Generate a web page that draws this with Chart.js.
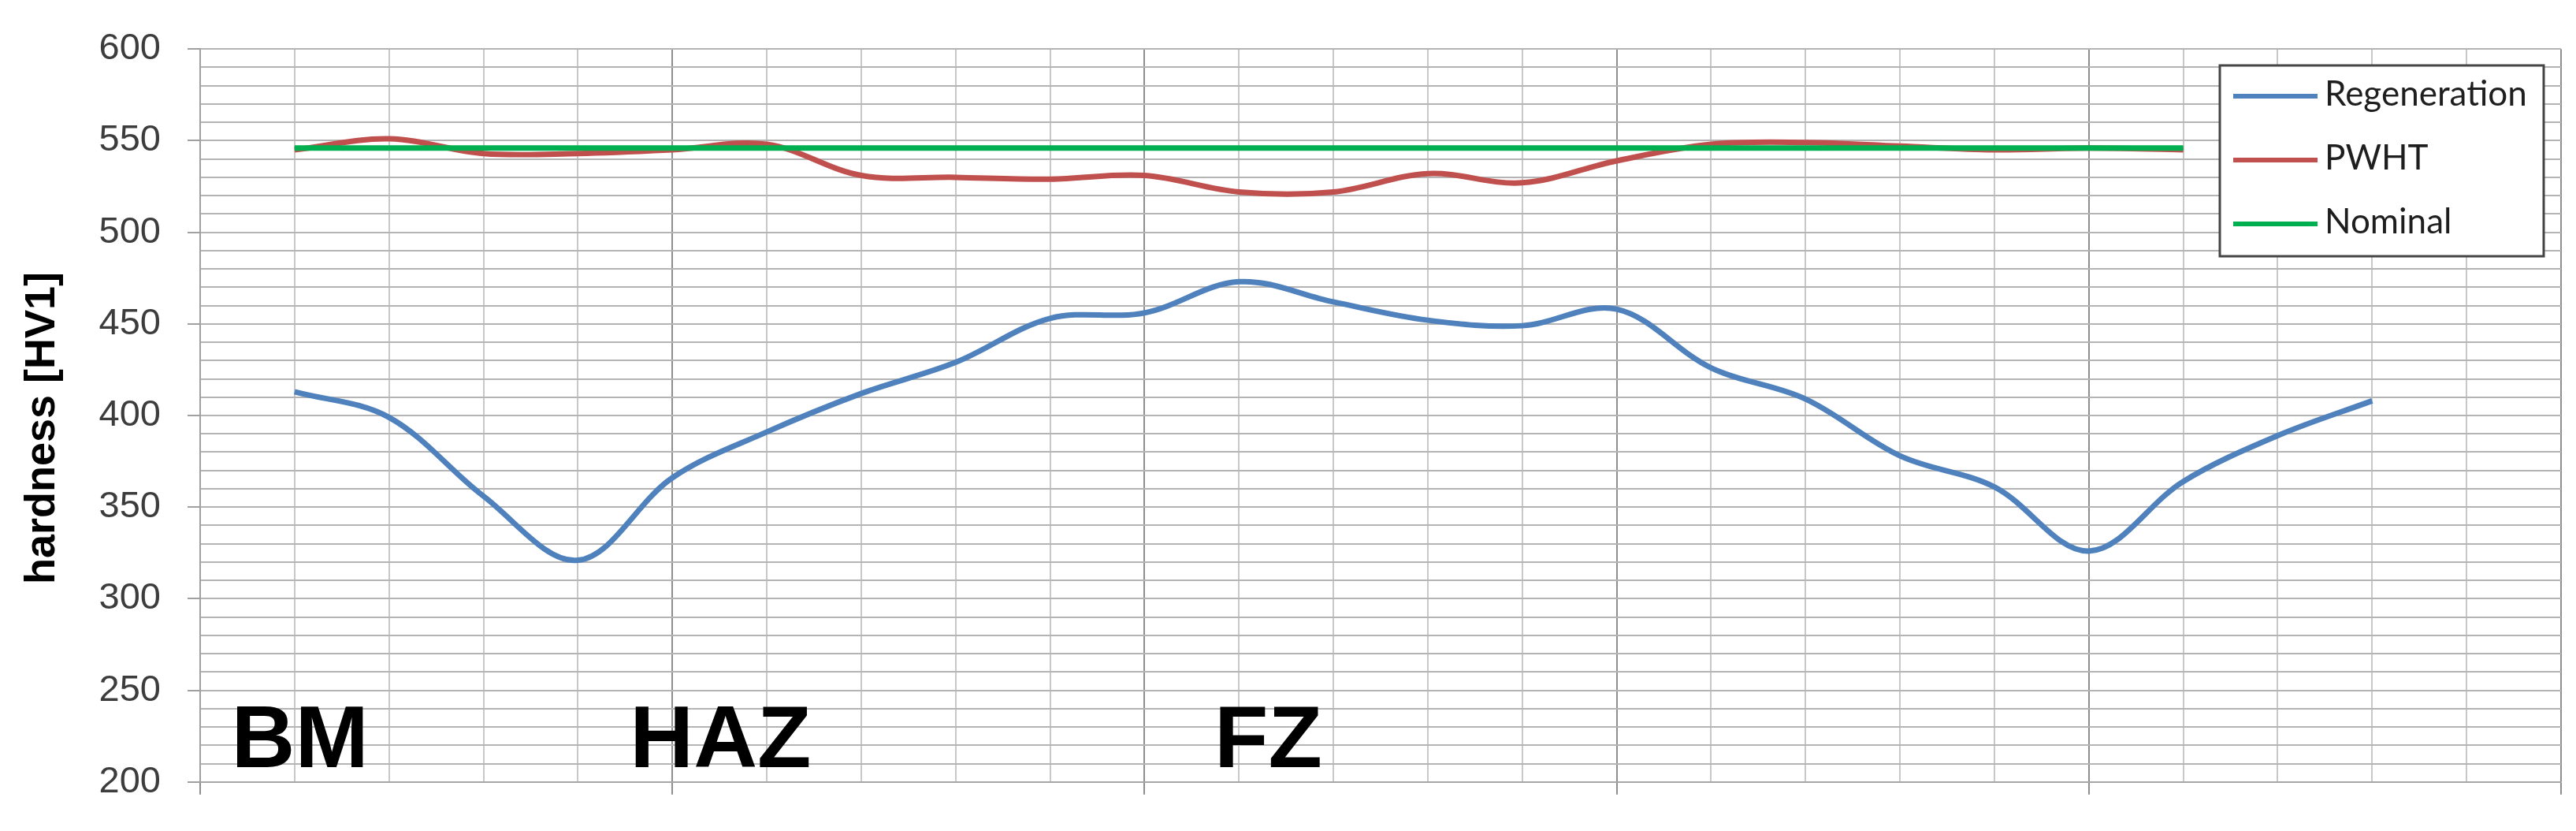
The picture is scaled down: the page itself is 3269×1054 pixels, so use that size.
<!DOCTYPE html>
<html>
<head>
<meta charset="utf-8">
<script src="https://cdn.jsdelivr.net/npm/chart.js@4.4.1/dist/chart.umd.min.js"></script>
<style>
    html, body { margin: 0; padding: 0; background: #ffffff; }
    #wrap { width: 3269px; height: 1054px; }
</style>
</head>
<body>
<div id="wrap"><canvas id="hardnessChart" width="3269" height="1054"></canvas></div>
<script>
// measuring positions (grid units along the weld)
const regenPos = [1, 2, 3, 4, 5, 6, 7, 8, 9, 10, 11, 12, 13, 14, 15, 16, 17, 18, 19, 20, 21, 22, 23];
const regenValues = [413, 399, 356, 321, 366, 391, 412, 429, 453, 456, 473, 462, 452, 449, 458, 426, 409, 378, 361, 326, 364, 389, 408];

const pwhtPos = [1, 2, 3, 4, 5, 6, 7, 8, 9, 10, 11, 12, 13, 14, 15, 16, 17, 18, 19, 20, 21];
const pwhtValues = [545, 551, 543, 543, 545, 548, 531, 530, 529, 531, 522, 522, 532, 527, 539, 548, 549, 547, 545, 546, 545];

const nominalPos = [1, 2, 3, 4, 5, 6, 7, 8, 9, 10, 11, 12, 13, 14, 15, 16, 17, 18, 19, 20, 21];
const nominalValues = [546, 546, 546, 546, 546, 546, 546, 546, 546, 546, 546, 546, 546, 546, 546, 546, 546, 546, 546, 546, 546];

const seriesNames = ['Regeneration', 'PWHT', 'Nominal'];
const zoneNames = ['BM', 'HAZ', 'FZ'];
const yAxisTitle = 'hardness [HV1]';

function toPoints(xs, ys) {
    return xs.map((x, i) => ({ x: x, y: ys[i] }));
}

// where the zone names sit (data units) and the legend box (pixels)
const zoneAnchors = { x: [0.33, 4.55, 10.74], y: 208 };
const legendBox = { x: 2817, y: 83, w: 411, h: 242, rows: [122, 203, 284] };

const decorations = {
    id: 'decorations',
    beforeDatasetsDraw(chart) {
        const c = chart.ctx;
        const xs = chart.scales.x, ys = chart.scales.y;
        c.save();
        c.fillStyle = '#000000';
        c.font = 'bold 112px "Liberation Sans", Arial, sans-serif';
        c.textBaseline = 'alphabetic';
        c.textAlign = 'left';
        zoneNames.forEach((name, i) => {
            c.fillText(name, xs.getPixelForValue(zoneAnchors.x[i]), ys.getPixelForValue(zoneAnchors.y));
        });

        // axis title
        c.translate(69, 543);
        c.rotate(-Math.PI / 2);
        c.textAlign = 'center';
        c.font = 'bold 54px "Liberation Sans", Arial, sans-serif';
        c.fillText(yAxisTitle, 0, 0);
        c.restore();
    },
    afterDatasetsDraw(chart) {
        const c = chart.ctx;
        const b = legendBox;
        c.save();
        c.fillStyle = '#ffffff';
        c.fillRect(b.x, b.y, b.w, b.h);
        c.strokeStyle = '#454545';
        c.lineWidth = 3;
        c.strokeRect(b.x, b.y, b.w, b.h);

        c.font = '44px Lato, "Open Sans", sans-serif';
        c.textBaseline = 'middle';
        c.textAlign = 'left';
        chart.data.datasets.forEach((ds, i) => {
            const y = b.rows[i];
            c.strokeStyle = ds.borderColor;
            c.lineWidth = 6;
            c.beginPath();
            c.moveTo(b.x + 17, y);
            c.lineTo(b.x + 124, y);
            c.stroke();
            c.fillStyle = '#1e1e1e';
            c.fillText(ds.label, b.x + 133, y - 2);
        });
        c.restore();
    }
};

const ctx = document.getElementById('hardnessChart').getContext('2d');

const hardnessChart = new Chart(ctx, {
    type: 'line',
    data: {
        datasets: [
            {
                label: seriesNames[0],
                data: toPoints(regenPos, regenValues),
                borderColor: '#4F81BD',
                borderWidth: 7,
                pointRadius: 0,
                tension: 0.35,
                order: 3
            },
            {
                label: seriesNames[1],
                data: toPoints(pwhtPos, pwhtValues),
                borderColor: '#C0504D',
                borderWidth: 7,
                pointRadius: 0,
                tension: 0.35,
                order: 2
            },
            {
                label: seriesNames[2],
                data: toPoints(nominalPos, nominalValues),
                borderColor: '#00B050',
                borderWidth: 7,
                pointRadius: 0,
                tension: 0,
                order: 1
            }
        ]
    },
    options: {
        responsive: false,
        animation: false,
        layout: { padding: { top: 55, right: 19, bottom: 0, left: 0 } },
        plugins: {
            legend: { display: false },
            tooltip: { enabled: false }
        },
        scales: {
            x: {
                type: 'linear',
                min: 0,
                max: 25,
                ticks: { stepSize: 1, autoSkip: false, display: false },
                grid: {
                    lineWidth: 2,
                    tickLength: 16,
                    color: (c) => (c.tick && c.tick.value % 5 === 0) ? '#8e8e8e' : '#c8c8c8',
                    tickColor: (c) => (c.tick && c.tick.value % 5 === 0) ? '#8e8e8e' : 'rgba(0,0,0,0)'
                },
                border: { color: '#a6a6a6', width: 2 },
                afterFit: (s) => { s.height = 52; }
            },
            y: {
                min: 200,
                max: 600,
                ticks: {
                    stepSize: 10,
                    autoSkip: false,
                    padding: 34,
                    color: '#3c3c3c',
                    font: { family: '"Liberation Sans", Arial, sans-serif', size: 47 },
                    callback: (v) => (v % 50 === 0 ? v : '')
                },
                grid: {
                    lineWidth: 2,
                    tickLength: 16,
                    color: '#b4b4b4',
                    tickColor: (c) => (c.tick && c.tick.value % 50 === 0) ? '#a0a0a0' : 'rgba(0,0,0,0)'
                },
                border: { color: '#a0a0a0', width: 2 },
                afterFit: (s) => { s.width = 254; }
            }
        }
    },
    plugins: [decorations]
});
</script>
</body>
</html>
